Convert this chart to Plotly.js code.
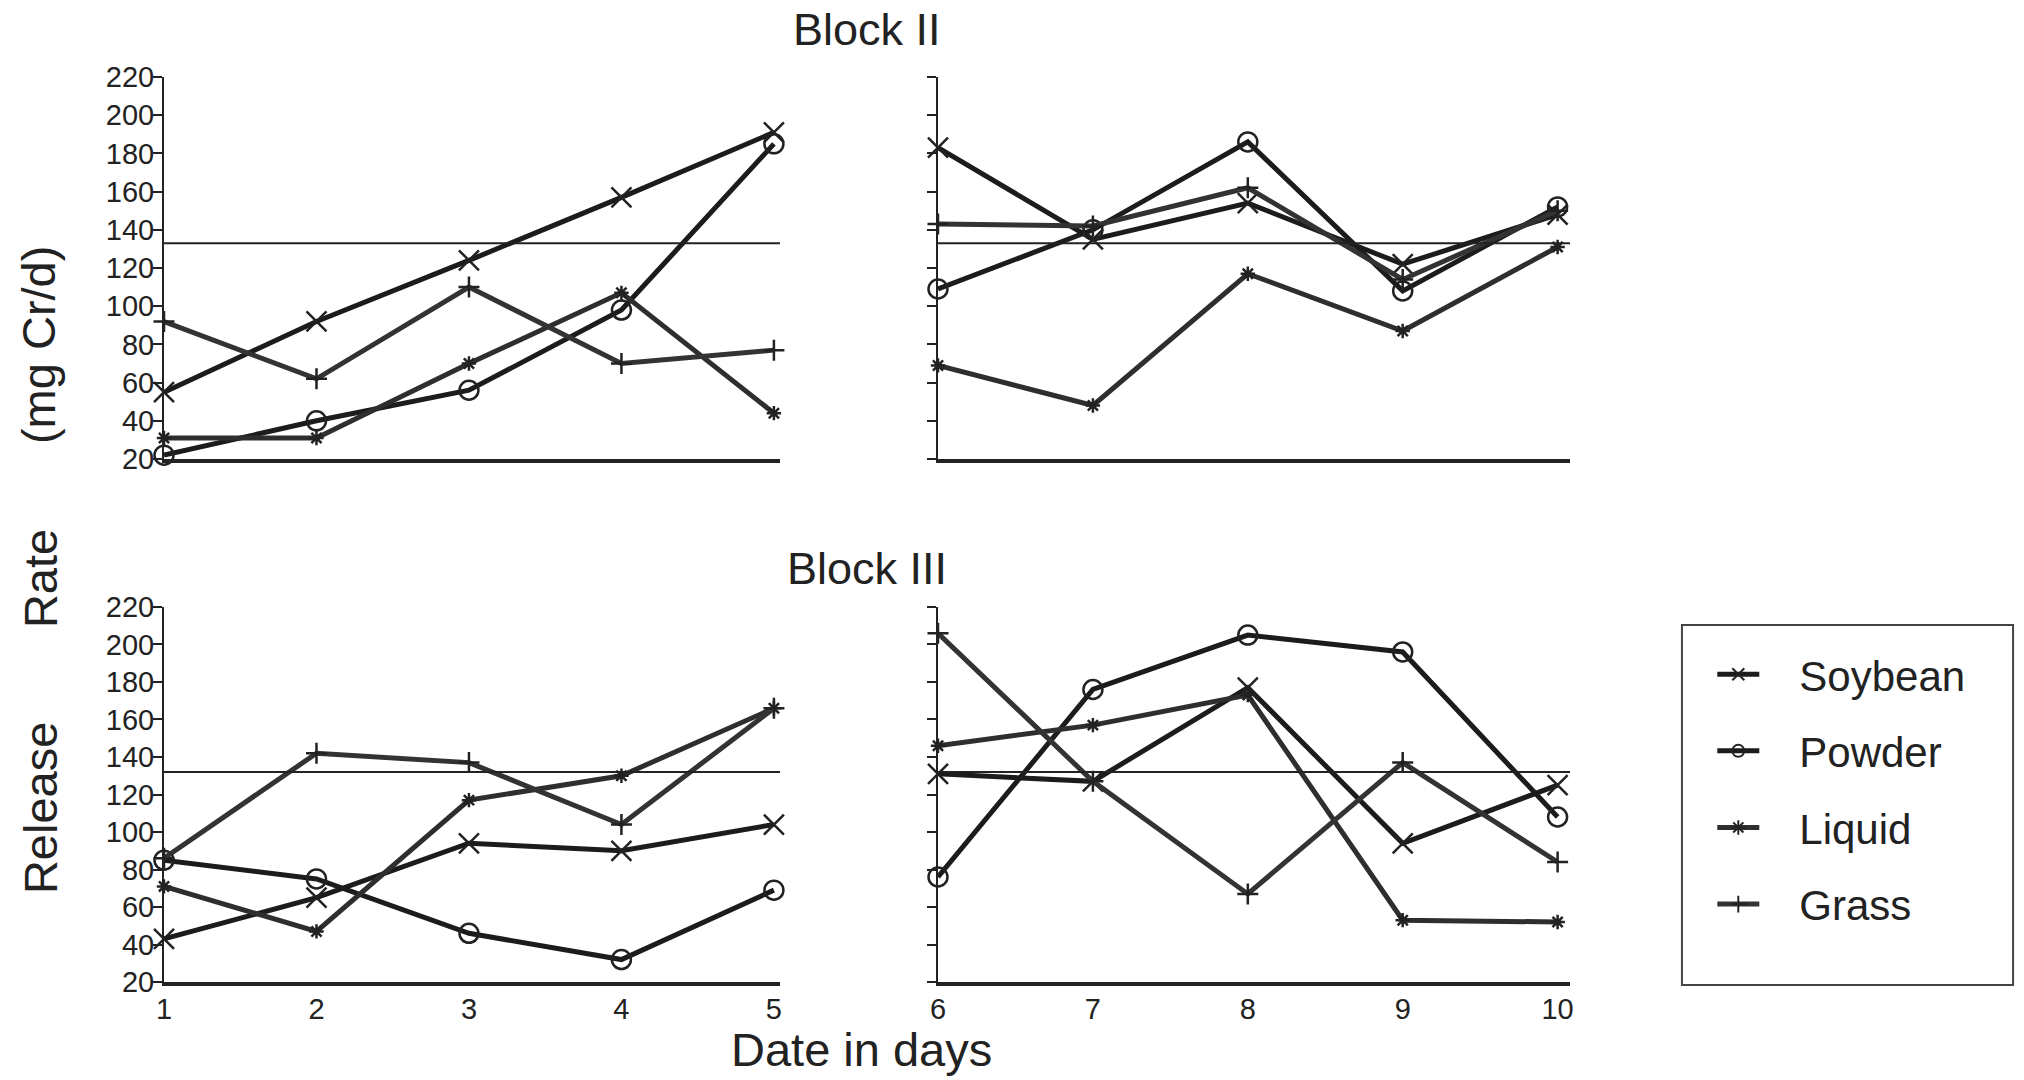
<!DOCTYPE html>
<html>
<head>
<meta charset="utf-8">
<script src="https://cdn.plot.ly/plotly-3.0.1.min.js"></script>
<style>html,body{margin:0;padding:0;background:#fff;}#chart{width:2024px;height:1080px;}</style>
</head>
<body>
<div id="chart"></div>
<script>
// ---- data ----
const days = [1, 2, 3, 4, 5, 6, 7, 8, 9, 10];
const seriesNames = ["Soybean", "Powder", "Liquid", "Grass"];

// Block II release rate (mg Cr/d)
const soybeanII = [55, 92, 124, 157, 191, 183, 135, 154, 122, 148];
const powderII  = [22, 40, 56, 98, 185, 109, 140, 186, 108, 152];
const liquidII  = [31, 31, 70, 107, 44, 69, 48, 117, 87, 131];
const grassII   = [92, 62, 110, 70, 77, 143, 142, 162, 114, 150];

// Block III release rate (mg Cr/d)
const soybeanIII = [43, 65, 94, 90, 104, 131, 127, 177, 94, 125];
const powderIII  = [85, 75, 46, 32, 69, 76, 176, 205, 196, 108];
const liquidIII  = [71, 47, 117, 130, 166, 146, 157, 173, 53, 52];
const grassIII   = [86, 142, 137, 104, 166, 206, 127, 67, 137, 84];

// horizontal reference levels
const refLevelII = 133;
const refLevelIII = 132;

const yTickVals = [20, 40, 60, 80, 100, 120, 140, 160, 180, 200, 220];
const blockTitles = ["Block II", "Block III"];
const xTitle = "Date in days";
const yTitleParts = ["(mg Cr/d)", "Rate", "Release"];

// ---- styling ----
const INK = "#222";
const FONT = "Liberation Sans, Arial, Helvetica, sans-serif";
const NB = "\u00a0\u00a0\u00a0"; // visual gap between legend symbol and label
const symbols = {
  Soybean: {symbol: "x-thin-open", size: 20},
  Powder: {symbol: "circle-open", size: 19},
  Liquid: {symbol: "asterisk-open", size: 12},
  Grass: {symbol: "cross-thin-open", size: 15}
};
const lineColors = {Soybean: "#1c1c1c", Powder: "#1c1c1c", Liquid: "#2e2e2e", Grass: "#333"};

const blockII = {Soybean: soybeanII, Powder: powderII, Liquid: liquidII, Grass: grassII};
const blockIII = {Soybean: soybeanIII, Powder: powderIII, Liquid: liquidIII, Grass: grassIII};

const traces = [];
function addBlock(block, axLeft, axRight, showLegend) {
  seriesNames.forEach(function (name) {
    const vals = block[name];
    [[0, 5, axLeft], [5, 10, axRight]].forEach(function (part, idx) {
      traces.push({
        type: "scatter",
        mode: "lines+markers",
        name: NB + name,
        legendgroup: name,
        showlegend: showLegend && idx === 0,
        x: days.slice(part[0], part[1]),
        y: vals.slice(part[0], part[1]),
        xaxis: part[2][0],
        yaxis: part[2][1],
        cliponaxis: false,
        line: {color: lineColors[name], width: 5},
        marker: {
          symbol: symbols[name].symbol,
          size: symbols[name].size,
          color: INK,
          line: {color: INK, width: 2.5}
        },
        hoverinfo: "x+y"
      });
    });
  });
}
addBlock(blockII, ["x", "y"], ["x2", "y2"], true);
addBlock(blockIII, ["x3", "y3"], ["x4", "y4"], false);

const domLeft = [0.08103, 0.38538];
const domRight = [0.46344, 0.77569];
const domTop = [0.5750, 0.9287];
const domBottom = [0.0907, 0.4380];

function xAxis(domain, range, anchor, labels) {
  return {
    domain: domain, range: range, anchor: anchor,
    showgrid: false, zeroline: false,
    showline: true, linewidth: 4, linecolor: INK,
    ticks: "", tickmode: "linear", tick0: range[0] === 1 ? 1 : 6, dtick: 1,
    showticklabels: labels,
    tickfont: {family: FONT, size: 29, color: INK},
    ticklabelstandoff: -2,
    fixedrange: true
  };
}
function yAxis(domain, anchor, labels) {
  return {
    domain: domain, range: [20, 220], anchor: anchor,
    showgrid: false, zeroline: false,
    showline: true, linewidth: 2, linecolor: INK,
    ticks: "outside", ticklen: 9, tickwidth: 2, tickcolor: INK,
    tickmode: "array", tickvals: yTickVals,
    showticklabels: labels,
    tickfont: {family: FONT, size: 29, color: INK},
    ticklabelstandoff: -7,
    fixedrange: true
  };
}
function innerTicks(over, anchor) {
  return {
    overlaying: over, anchor: anchor, range: [20, 220],
    showgrid: false, zeroline: false, showline: false,
    ticks: "inside", ticklen: 7, tickwidth: 2, tickcolor: INK,
    tickmode: "array", tickvals: yTickVals, showticklabels: false,
    fixedrange: true
  };
}

const shapes = [
  {type: "line", xref: "x domain", yref: "y", x0: 0, x1: 1, y0: refLevelII, y1: refLevelII, line: {color: INK, width: 2}},
  {type: "line", xref: "x2 domain", yref: "y2", x0: 0, x1: 1, y0: refLevelII, y1: refLevelII, line: {color: INK, width: 2}},
  {type: "line", xref: "x3 domain", yref: "y3", x0: 0, x1: 1, y0: refLevelIII, y1: refLevelIII, line: {color: INK, width: 2}},
  {type: "line", xref: "x4 domain", yref: "y4", x0: 0, x1: 1, y0: refLevelIII, y1: refLevelIII, line: {color: INK, width: 2}},
  // legend frame
  {type: "rect", xref: "paper", yref: "paper", x0: 0.8310, x1: 0.9946, y0: 0.0880, y1: 0.4213,
   line: {color: "#444", width: 2}, fillcolor: "rgba(0,0,0,0)"}
];

const annotations = [
  {text: blockTitles[0], xref: "paper", yref: "paper", x: 0.4284, y: 0.973, xanchor: "center", yanchor: "middle",
   showarrow: false, font: {family: FONT, size: 45, color: INK}},
  {text: blockTitles[1], xref: "paper", yref: "paper", x: 0.4284, y: 0.474, xanchor: "center", yanchor: "middle",
   showarrow: false, font: {family: FONT, size: 45, color: INK}},
  {text: xTitle, xref: "paper", yref: "paper", x: 0.4254, y: 1 - 1022 / 1080, xanchor: "center", yanchor: "top",
   showarrow: false, borderpad: 0, font: {family: FONT, size: 47, color: INK}},
  {text: yTitleParts[0], xref: "paper", yref: "paper", x: 0.0188, y: 1 - 345 / 1080, xanchor: "center", yanchor: "middle",
   textangle: -90, showarrow: false, font: {family: FONT, size: 47, color: INK}},
  {text: yTitleParts[1], xref: "paper", yref: "paper", x: 0.0198, y: 1 - 579 / 1080, xanchor: "center", yanchor: "middle",
   textangle: -90, showarrow: false, font: {family: FONT, size: 47, color: INK}},
  {text: yTitleParts[2], xref: "paper", yref: "paper", x: 0.0198, y: 1 - 808 / 1080, xanchor: "center", yanchor: "middle",
   textangle: -90, showarrow: false, font: {family: FONT, size: 47, color: INK}}
];

const layout = {
  width: 2024, height: 1080, autosize: false,
  margin: {l: 0, r: 0, t: 0, b: 0, pad: 0},
  paper_bgcolor: "#fff", plot_bgcolor: "#fff",
  font: {family: FONT, color: INK},
  showlegend: true,
  legend: {
    x: 0.846, y: 0.407, xanchor: "left", yanchor: "top",
    font: {family: FONT, size: 42, color: INK},
    bgcolor: "rgba(0,0,0,0)", borderwidth: 0,
    tracegroupgap: 19, itemwidth: 42, itemsizing: "constant",
    traceorder: "grouped"
  },
  xaxis: xAxis(domLeft, [1, 5.04], "y", false),
  yaxis: yAxis(domTop, "x", true),
  xaxis2: xAxis(domRight, [6, 10.08], "y2", false),
  yaxis2: yAxis(domTop, "x2", false),
  xaxis3: xAxis(domLeft, [1, 5.04], "y3", true),
  yaxis3: yAxis(domBottom, "x3", true),
  xaxis4: xAxis(domRight, [6, 10.08], "y4", true),
  yaxis4: yAxis(domBottom, "x4", false),
  yaxis5: innerTicks("y2", "x2"),
  yaxis6: innerTicks("y4", "x4"),
  shapes: shapes,
  annotations: annotations
};

Plotly.newPlot("chart", traces, layout, {displayModeBar: false, staticPlot: true});
</script>
</body>
</html>
